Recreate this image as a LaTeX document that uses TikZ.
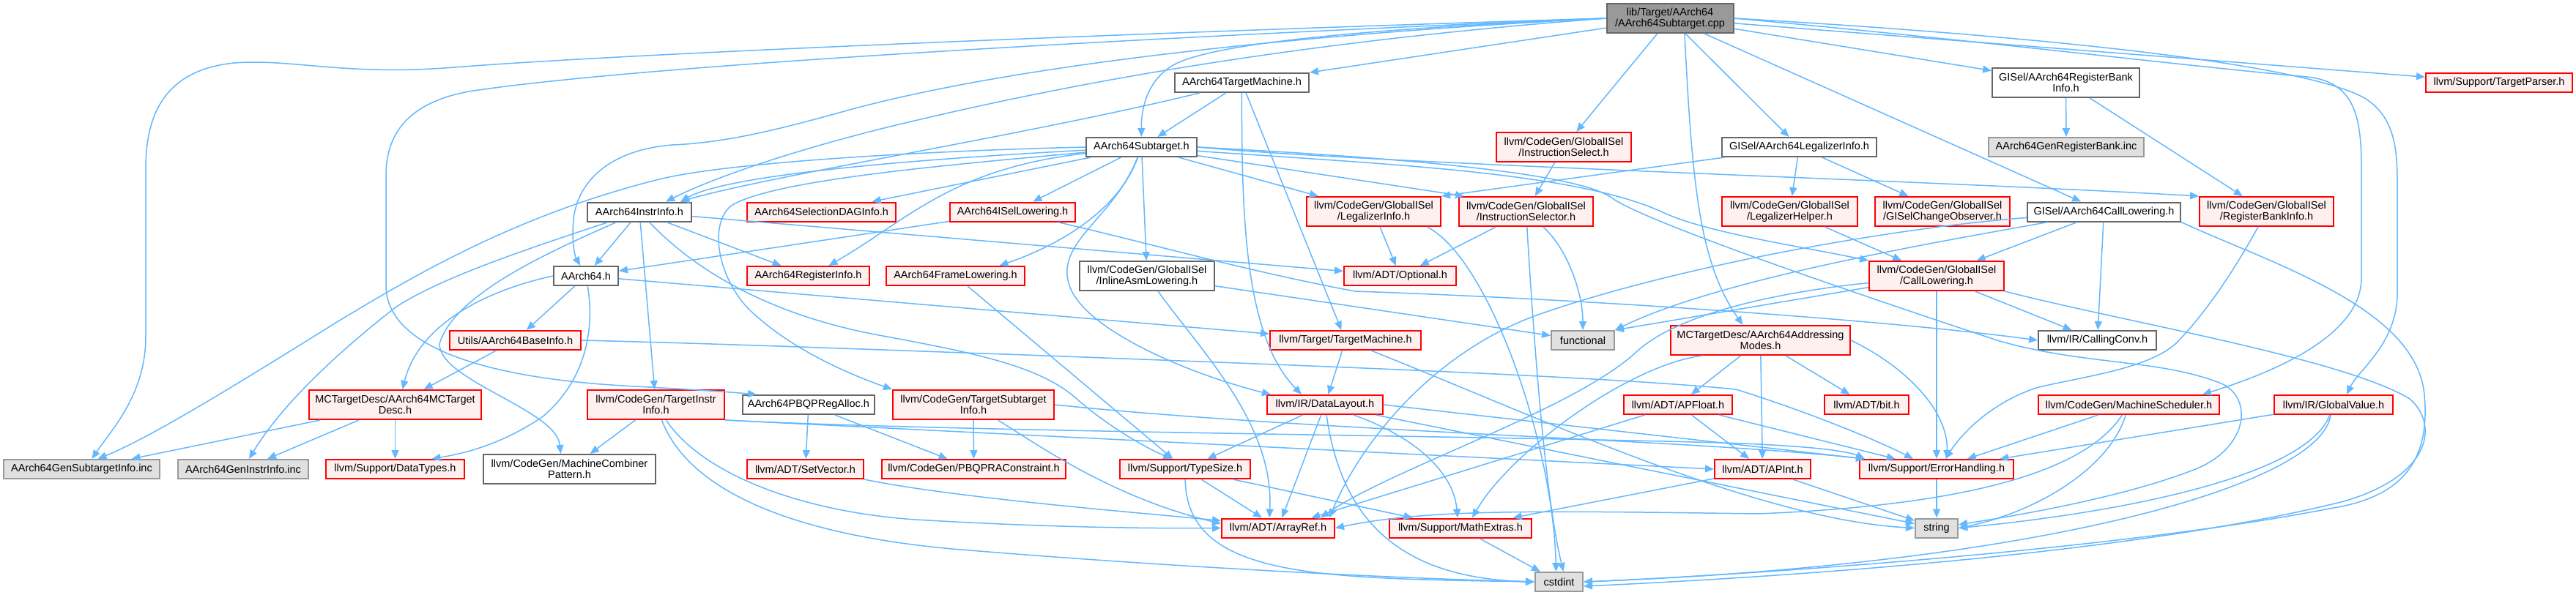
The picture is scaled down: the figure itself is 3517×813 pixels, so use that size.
\documentclass[tikz,border=0pt]{standalone}
\usepackage{fontspec}
\setmainfont{Liberation Sans}
\usetikzlibrary{arrows.meta}
\definecolor{edgec}{HTML}{63B8FF}
\definecolor{redb}{HTML}{FF0000}
\definecolor{redf}{HTML}{FFF0F0}
\definecolor{grayb}{HTML}{999999}
\definecolor{grayf}{HTML}{E0E0E0}
\definecolor{whiteb}{HTML}{666666}
\definecolor{mainf}{HTML}{999999}
\begin{document}
\begin{tikzpicture}[x=0.5pt,y=-0.5pt,
  nbase/.style={draw, line width=1pt, font=\fontsize{7.25}{7.5}\selectfont, align=center, inner xsep=2pt, inner ysep=2.5pt, minimum height=13pt},
  nw/.style={minimum width=#1*0.5pt},
  two/.style={minimum height=20pt},
  rn/.style={nbase, draw=redb, fill=redf},
  wn/.style={nbase, draw=whiteb, fill=white},
  gn/.style={nbase, draw=grayb, fill=grayf},
  mn/.style={nbase, draw=whiteb, fill=mainf},
  ed/.style={draw=edgec, line width=0.75pt, -{Triangle[length=6pt,width=5pt]}},
]
\fill[white] (0,0) rectangle (3517,813);
\useasboundingbox (0,0) rectangle (3517,813);

% nodes
\node[mn, nw=173, two] (main) at (2280,25) {lib/Target/AArch64\\/AArch64Subtarget.cpp};
\node[wn, nw=183] (tm) at (1695.5,113) {AArch64TargetMachine.h};
\node[wn, nw=201, two] (gisrbi) at (2820.5,113) {GISel/AArch64RegisterBank\\Info.h};
\node[rn, nw=200] (tp) at (3412,113) {llvm/Support/TargetParser.h};
\node[wn, nw=151] (st) at (1558.5,201) {AArch64Subtarget.h};
\node[rn, nw=184, two] (isel) at (2135,201) {llvm/CodeGen/GlobalISel\\/InstructionSelect.h};
\node[wn, nw=211] (gisli) at (2456.5,201) {GISel/AArch64LegalizerInfo.h};
\node[gn, nw=212] (genrb) at (2821,201) {AArch64GenRegisterBank.inc};
\node[wn, nw=142] (ii) at (873,289.5) {AArch64InstrInfo.h};
\node[rn, nw=203] (sdag) at (1121.5,289.5) {AArch64SelectionDAGInfo.h};
\node[rn, nw=171] (isl) at (1382.5,289.5) {AArch64ISelLowering.h};
\node[rn, nw=183, two] (li) at (1875.5,289) {llvm/CodeGen/GlobalISel\\/LegalizerInfo.h};
\node[rn, nw=183, two] (isr) at (2083.5,289) {llvm/CodeGen/GlobalISel\\/InstructionSelector.h};
\node[rn, nw=185, two] (lh) at (2443.5,289) {llvm/CodeGen/GlobalISel\\/LegalizerHelper.h};
\node[rn, nw=184, two] (gco) at (2652,289) {llvm/CodeGen/GlobalISel\\/GISelChangeObserver.h};
\node[wn, nw=209] (giscl) at (2872.5,289.5) {GISel/AArch64CallLowering.h};
\node[rn, nw=183, two] (rbi) at (3094.5,289) {llvm/CodeGen/GlobalISel\\/RegisterBankInfo.h};
\node[wn, nw=88] (a64) at (800,377) {AArch64.h};
\node[rn, nw=167] (ri) at (1103.5,377) {AArch64RegisterInfo.h};
\node[rn, nw=189] (fl) at (1304.5,377) {AArch64FrameLowering.h};
\node[wn, nw=184, two] (ial) at (1566,377) {llvm/CodeGen/GlobalISel\\/InlineAsmLowering.h};
\node[rn, nw=153] (opt) at (1911.5,377) {llvm/ADT/Optional.h};
\node[rn, nw=184, two] (cl) at (2644,377) {llvm/CodeGen/GlobalISel\\/CallLowering.h};
\node[rn, nw=179] (bi) at (703.5,465) {Utils/AArch64BaseInfo.h};
\node[rn, nw=206] (ttm) at (1837,465) {llvm/Target/TargetMachine.h};
\node[gn, nw=86] (fn) at (2161,465) {functional};
\node[rn, nw=245, two] (am) at (2403.5,465) {MCTargetDesc/AArch64Addressing\\Modes.h};
\node[wn, nw=161] (cc) at (2863.5,465) {llvm/IR/CallingConv.h};
\node[rn, nw=235, two] (mcd) at (539.5,553) {MCTargetDesc/AArch64MCTarget\\Desc.h};
\node[rn, nw=187, two] (tii) at (895.5,553) {llvm/CodeGen/TargetInstr\\Info.h};
\node[wn, nw=180] (pbqp) at (1104,553) {AArch64PBQPRegAlloc.h};
\node[rn, nw=220, two] (tsi) at (1329,553) {llvm/CodeGen/TargetSubtarget\\Info.h};
\node[rn, nw=158] (dl) at (1809,553) {llvm/IR/DataLayout.h};
\node[rn, nw=148] (apf) at (2291,553) {llvm/ADT/APFloat.h};
\node[rn, nw=115] (bit) at (2548.5,553) {llvm/ADT/bit.h};
\node[rn, nw=247] (ms) at (2906.5,553) {llvm/CodeGen/MachineScheduler.h};
\node[rn, nw=162] (gv) at (3186,553) {llvm/IR/GlobalValue.h};
\node[gn, nw=213] (gsi) at (111.5,641) {AArch64GenSubtargetInfo.inc};
\node[gn, nw=178] (gii) at (332,641) {AArch64GenInstrInfo.inc};
\node[rn, nw=189] (dt) at (539.5,641) {llvm/Support/DataTypes.h};
\node[wn, nw=235, two] (mcp) at (777.5,641) {llvm/CodeGen/MachineCombiner\\Pattern.h};
\node[rn, nw=159] (sv) at (1099.5,641) {llvm/ADT/SetVector.h};
\node[rn, nw=251] (pbc) at (1329.5,641) {llvm/CodeGen/PBQPRAConstraint.h};
\node[rn, nw=178] (ts) at (1618,641) {llvm/Support/TypeSize.h};
\node[rn, nw=131] (api) at (2406.5,641) {llvm/ADT/APInt.h};
\node[rn, nw=210] (eh) at (2644,641) {llvm/Support/ErrorHandling.h};
\node[rn, nw=154] (ar) at (1745,721.5) {llvm/ADT/ArrayRef.h};
\node[rn, nw=194] (me) at (1994,721.5) {llvm/Support/MathExtras.h};
\node[gn, nw=58] (str) at (2644,721.5) {string};
\node[gn, nw=65] (ci) at (2128.5,795) {cstdint};

% main
\draw[ed] (main.west) .. controls (1700,40) and (900,70) .. (620,92) .. controls (470,104) and (400,80) .. (320,86) .. controls (230,95) and (199,150) .. (199,230) -- (199,460) .. controls (199,540) and (150,590) .. ([xshift=7pt]gsi.north);
\draw[ed] (main.west) .. controls (1700,45) and (900,85) .. (640,125) .. controls (560,140) and (527,180) .. (527,240) -- (527,390) .. controls (527,470) and (650,515) .. (850,527) .. controls (960,533) and (1000,536) .. ([xshift=10pt]pbqp.north west);
\draw[ed] (main.west) .. controls (1800,45) and (1400,85) .. (1160,150) .. controls (1060,178) and (990,195) .. (918,198) .. controls (830,205) and (788,250) .. (783,300) .. controls (780,330) and (785,350) .. (a64);
\draw[ed] (main.west) .. controls (1800,55) and (1500,105) .. (1240,167) .. controls (1100,200) and (980,240) .. ([xshift=18pt]ii.north);
\draw[ed] (main.west) .. controls (1850,40) and (1650,60) .. (1600,90) .. controls (1565,112) and (1558,150) .. (st);
\draw[ed] (main) -- (tm);
\draw[ed] (main) -- (isel);
\draw[ed] (main) -- (gisli);
\draw[ed] (main) -- (giscl);
\draw[ed] (main) -- (gisrbi);
\draw[ed] ([xshift=10pt]main.south) .. controls (2310,250) and (2320,360) .. ([xshift=-12pt]am.north);
\draw[ed] (main.east) .. controls (2700,55) and (3000,92) .. (3150,105) .. controls (3215,112) and (3224,160) .. (3224,230) -- (3224,380) .. controls (3224,460) and (3100,510) .. ([xshift=-12pt]ms.north east);
\draw[ed] (main.east) .. controls (2800,50) and (3150,88) .. (3230,135) .. controls (3268,160) and (3273,200) .. (3273,250) -- (3273,400) .. controls (3273,470) and (3220,505) .. ([xshift=9pt]gv.north);
\draw[ed] (main) -- (tp);

% AArch64TargetMachine.h
\draw[ed] (tm) .. controls (1400,185) and (1050,240) .. ([xshift=28pt]ii.north);
\draw[ed] (tm) -- (st);
\draw[ed] (tm) .. controls (1695,300) and (1700,460) .. ([xshift=-16pt]dl.north);
\draw[ed] (tm) -- (ttm);

% AArch64Subtarget.h
\draw[ed] (st) .. controls (1300,215) and (1000,235) .. ([xshift=28pt]ii.north);
\draw[ed] (st) -- (sdag);
\draw[ed] (st) -- (isl);
\draw[ed] (st) .. controls (1530,280) and (1460,330) .. ([xshift=30pt]fl.north);
\draw[ed] (st) .. controls (1300,230) and (1240,300) .. ([xshift=14pt]ri.north);
\draw[ed] (st.west) .. controls (1300,205) and (1000,220) .. (900,245) .. controls (700,295) and (560,380) .. (460,440) .. controls (300,540) and (200,600) .. ([xshift=11pt]gsi.north);
\draw[ed] (st) .. controls (1300,225) and (1060,245) .. (1000,280) .. controls (970,300) and (975,370) .. (1020,420) .. controls (1080,480) and (1170,515) .. (tsi.north west);
\draw[ed] (st) -- (ial);
\draw[ed] (st) .. controls (1520,300) and (1440,330) .. (1460,390) .. controls (1480,450) and (1620,510) .. ([xshift=3pt]dl.north west);
\draw[ed] (st) -- (li);
\draw[ed] (st) -- ([xshift=4pt]isr.north west);
\draw[ed] (st) .. controls (1900,225) and (2150,235) .. (2270,290) .. controls (2330,318) and (2450,335) .. (cl.north west);
\draw[ed] (st.east) .. controls (1900,225) and (2600,245) .. (rbi.north west);
\draw[ed] (st.east) .. controls (1900,215) and (2150,235) .. (2200,270) .. controls (2240,300) and (2500,390) .. (2730,466) .. controls (2850,500) and (2950,490) .. (3035,525) .. controls (3075,545) and (3070,610) .. (3000,640) .. controls (2900,680) and (2750,705) .. (str);

% GISel and GlobalISel
\draw[ed] (isel) -- (isr);
\draw[ed] (gisli) -- (li.north east);
\draw[ed] (gisli) -- (lh);
\draw[ed] (gisli) -- (gco);
\draw[ed] (gisrbi) -- (genrb);
\draw[ed] (gisrbi) -- (rbi);
\draw[ed] (giscl) -- (cl);
\draw[ed] (giscl) -- (cc);
\draw[ed] (giscl) .. controls (2650,330) and (2350,380) .. (fn.north east);
\draw[ed] (giscl) .. controls (2600,310) and (2300,360) .. (2100,430) .. controls (1960,480) and (1860,600) .. ([xshift=-4pt]ar.north east);
\draw[ed] (giscl.south east) .. controls (3100,360) and (3300,420) .. (3310,540) .. controls (3318,630) and (3280,680) .. (3180,695) .. controls (2900,750) and (2400,785) .. (ci.east);

% AArch64InstrInfo.h
\draw[ed] (ii) -- (a64);
\draw[ed] (ii) -- (ri);
\draw[ed] (ii) -- (opt);
\draw[ed] (ii) .. controls (760,340) and (620,400) .. (600,470) .. controls (600,520) and (760,560) .. ([xshift=-6pt]mcp.north);
\draw[ed] (ii) -- (tii);
\draw[ed] (ii) .. controls (950,370) and (1050,430) .. (1200,458) .. controls (1330,482) and (1420,500) .. (1470,545) .. controls (1510,580) and (1560,610) .. ([xshift=-9pt]ts.north);
\draw[ed] (ii) .. controls (720,340) and (600,380) .. (540,420) .. controls (450,490) and (380,560) .. ([xshift=4pt]gii.north);

% ISelLowering, FrameLowering
\draw[ed] (isl) -- (a64);
\draw[ed] (isl) .. controls (1560,330) and (1700,370) .. (1850,398) .. controls (2200,410) and (2600,440) .. (cc.west);
\draw[ed] (fl) -- (ts);

% LegalizerInfo, InstructionSelector, LegalizerHelper, RegisterBankInfo
\draw[ed] (li) -- (opt);
\draw[ed] ([xshift=-10pt]li.south east) .. controls (2030,350) and (2120,600) .. ([xshift=-2pt]ci.north);
\draw[ed] (isr) -- (opt);
\draw[ed] (isr) .. controls (2095,480) and (2110,680) .. ([xshift=3pt]ci.north);
\draw[ed] (isr) .. controls (2140,340) and (2161,400) .. (fn);
\draw[ed] (lh) -- (cl);
\draw[ed] (rbi) .. controls (3050,370) and (3010,430) .. (2970,470) .. controls (2930,505) and (2840,515) .. (2780,530) .. controls (2720,550) and (2680,590) .. ([xshift=6pt]eh.north);

% AArch64.h
\draw[ed] (a64.west) .. controls (650,400) and (570,450) .. ([xshift=5pt]mcd.north);
\draw[ed] (a64) -- (bi);
\draw[ed] (a64) .. controls (812,450) and (800,520) .. (740,570) .. controls (680,610) and (630,620) .. ([xshift=25pt]dt.north);
\draw[ed] (a64) -- (ttm);

% InlineAsmLowering, CallLowering
\draw[ed] (ial) .. controls (1640,480) and (1740,580) .. ([xshift=-6pt]ar.north);
\draw[ed] (ial) -- (fn);
\draw[ed] (cl) -- (fn.north east);
\draw[ed] (cl) .. controls (2420,400) and (2290,430) .. (2235,480) .. controls (2150,560) and (1900,640) .. ([xshift=-10pt]ar.north east);
\draw[ed] (cl) -- (cc);
\draw[ed] (cl) -- (eh);
\draw[ed] (cl.south east) .. controls (2900,440) and (3200,490) .. (3290,545) .. controls (3330,580) and (3320,650) .. (3200,685) .. controls (2900,760) and (2400,790) .. ([yshift=-3pt]ci.east);

% BaseInfo, TargetMachine
\draw[ed] (bi) -- (mcd);
\draw[ed] (bi.east) .. controls (1000,470) and (1200,478) .. (1400,485) .. controls (1800,500) and (2200,515) .. (2370,532) .. controls (2460,560) and (2560,600) .. ([xshift=-16pt]eh.north);
\draw[ed] (ttm) -- (dl);
\draw[ed] (ttm) .. controls (2100,570) and (2400,710) .. (str.west);

% MCTargetDesc
\draw[ed] (mcd) -- (gsi);
\draw[ed] (mcd) -- (gii);
\draw[ed] (mcd) -- (dt);

% TargetInstrInfo
\draw[ed] (tii) -- (mcp);
\draw[ed] (tii) .. controls (960,650) and (1100,700) .. (1250,710) .. controls (1450,722) and (1600,722) .. (ar.west);
\draw[ed] (tii) .. controls (940,670) and (1080,730) .. (1300,750) .. controls (1600,775) and (1900,790) .. (ci.west);
\draw[ed] (tii.south east) -- (api.west);
\draw[ed] (tii.south east) .. controls (1300,590) and (2000,595) .. (2350,605) .. controls (2450,608) and (2520,615) .. ([xshift=4pt]eh.north west);

% PBQP, TargetSubtargetInfo
\draw[ed] (pbqp) -- (sv);
\draw[ed] (pbqp) -- (pbc);
\draw[ed] (tsi) -- (pbc);
\draw[ed] (tsi) .. controls (1420,610) and (1520,680) .. ([yshift=3pt]ar.west);
\draw[ed] (tsi.east) .. controls (1800,590) and (2300,600) .. ([xshift=4pt]eh.north west);

% DataLayout
\draw[ed] (dl) -- (ts);
\draw[ed] (dl) -- (ar);
\draw[ed] (dl) .. controls (1940,600) and (1985,650) .. ([xshift=-2pt]me.north);
\draw[ed] (dl) .. controls (1830,700) and (1900,790) .. (ci.west);
\draw[ed] (dl.east) -- ([xshift=4pt]eh.north west);
\draw[ed] (dl) -- (str);

% APFloat, AddressingModes
\draw[ed] (apf) -- (ar);
\draw[ed] (apf) -- (api);
\draw[ed] (apf) -- (eh);
\draw[ed] (am) -- (apf);
\draw[ed] (am) -- (api);
\draw[ed] (am) -- (bit);
\draw[ed] (am.east) .. controls (2600,500) and (2660,560) .. ([xshift=7pt]eh.north);
\draw[ed] ([xshift=-40pt]am.south) .. controls (2220,500) and (2060,620) .. ([xshift=8pt]me.north);

% MachineScheduler, GlobalValue
\draw[ed] (ms) -- (eh);
\draw[ed] (ms) .. controls (2880,640) and (2780,700) .. (str.east);
\draw[ed] (ms) .. controls (2850,640) and (2700,690) .. (2400,702) .. controls (2100,698) and (1950,695) .. (ar.east);
\draw[ed] (gv) -- (eh);
\draw[ed] (gv) .. controls (3150,650) and (2900,700) .. (str.east);
\draw[ed] ([xshift=-2pt]gv.south) .. controls (3170,660) and (2800,770) .. (ci.east);

% lower rows
\draw[ed] (sv.south east) .. controls (1300,680) and (1550,700) .. ([yshift=5pt]ar.west);
\draw[ed] (ts) -- (ar);
\draw[ed] (ts) -- (me);
\draw[ed] (ts) .. controls (1620,790) and (1800,790) .. (ci.west);
\draw[ed] (api) -- (me);
\draw[ed] (api) -- (str);
\draw[ed] (eh) -- (str);
\draw[ed] (me) -- (ci);
\end{tikzpicture}
\end{document}
